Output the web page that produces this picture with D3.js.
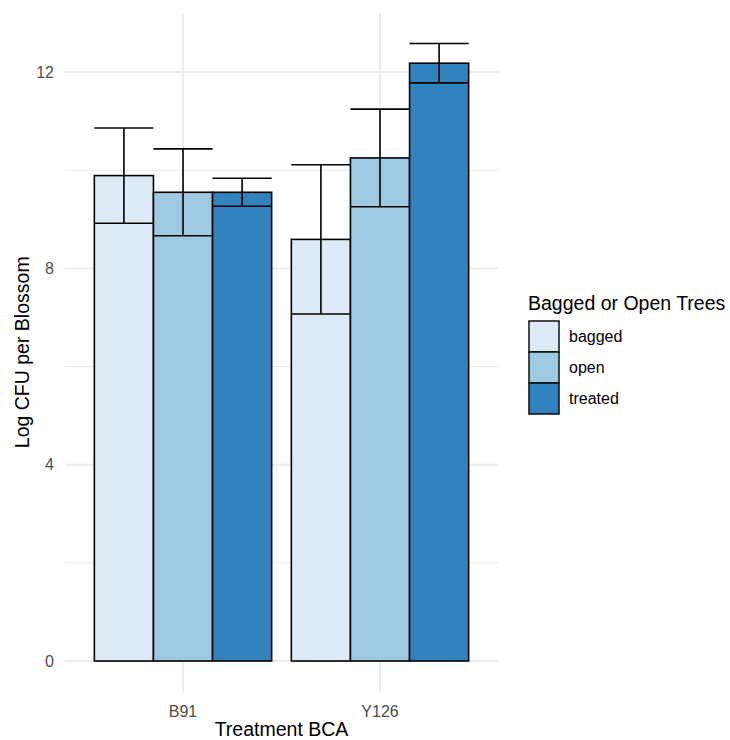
<!DOCTYPE html>
<html>
<head>
<meta charset="utf-8">
<script src="https://cdn.jsdelivr.net/npm/d3@7"></script>
<style>
  body { margin: 0; background: #fff; }
  svg { font-family: "Liberation Sans", Arial, sans-serif; }
</style>
</head>
<body>
<div id="graf"></div>
<script>
// Datos
const tratamientos = ["B91", "Y126"]
const grupos = ["bagged", "open", "treated"]
const mediaB91 = [9.89, 9.55, 9.55]
const seB91 = [0.97, 0.885, 0.285]
const mediaY126 = [8.59, 10.25, 12.18]
const seY126 = [1.52, 0.995, 0.40]
const yTicks = [0, 4, 8, 12]
const yMinor = [2, 6, 10]
const colores = ["#deebf7", "#9ecae1", "#3182bd"]

const series = { B91: [mediaB91, seB91], Y126: [mediaY126, seY126] }
const data = []
tratamientos.forEach((t) => {
  grupos.forEach((g, i) => {
    data.push({ trat: t, grupo: g, media: series[t][0][i], se: series[t][1][i] })
  })
})

const anchoTotal = 730
const altoTotal = 740
const panel = { left: 64.8, right: 498.2 }

const svg = d3.select("#graf")
  .append("svg")
  .attr("width", anchoTotal)
  .attr("height", altoTotal)

// Escaladores (expansion estilo ggplot)
const maxVal = d3.max(data, (d) => d.media + d.se)
const exp = maxVal * 0.05
const y = d3.scaleLinear()
  .domain([-exp, maxVal + exp])
  .range([661 + exp * 49.08, 661 - (maxVal + exp) * 49.08])
const panelTop = y.range()[1]
const panelBottom = y.range()[0]

const x = d3.scaleBand()
  .domain(tratamientos)
  .range([panel.left, panel.right])
  .paddingInner(0.1)
  .paddingOuter(0.15)

const xSub = d3.scaleBand()
  .domain(grupos)
  .range([0, x.bandwidth()])

const color = d3.scaleOrdinal().domain(grupos).range(colores)

// Rejilla
const grid = svg.append("g")
grid.selectAll(".minor")
  .data(yMinor)
  .join("line")
  .attr("x1", panel.left).attr("x2", panel.right)
  .attr("y1", (d) => y(d)).attr("y2", (d) => y(d))
  .attr("stroke", "#ebebeb").attr("stroke-width", 1)
grid.selectAll(".major")
  .data(yTicks)
  .join("line")
  .attr("x1", panel.left).attr("x2", panel.right)
  .attr("y1", (d) => y(d)).attr("y2", (d) => y(d))
  .attr("stroke", "#ebebeb").attr("stroke-width", 1.9)
grid.selectAll(".vert")
  .data(tratamientos)
  .join("line")
  .attr("x1", (d) => x(d) + x.bandwidth() / 2).attr("x2", (d) => x(d) + x.bandwidth() / 2)
  .attr("y1", panelTop).attr("y2", panelBottom)
  .attr("stroke", "#ebebeb").attr("stroke-width", 1.9)

// Barras
const g = svg.append("g")
g.selectAll("rect")
  .data(data)
  .join("rect")
  .attr("x", (d) => x(d.trat) + xSub(d.grupo))
  .attr("y", (d) => y(d.media))
  .attr("width", xSub.bandwidth())
  .attr("height", (d) => y(0) - y(d.media))
  .attr("fill", (d) => color(d.grupo))
  .attr("stroke", "#000")
  .attr("stroke-width", 1.6)

// Barras de error
const err = svg.append("g").attr("stroke", "#000").attr("stroke-width", 1.6)
data.forEach((d) => {
  const x0 = x(d.trat) + xSub(d.grupo)
  const x1 = x0 + xSub.bandwidth()
  const xc = (x0 + x1) / 2
  err.append("line").attr("x1", xc).attr("x2", xc)
    .attr("y1", y(d.media - d.se)).attr("y2", y(d.media + d.se))
  err.append("line").attr("x1", x0).attr("x2", x1)
    .attr("y1", y(d.media - d.se)).attr("y2", y(d.media - d.se))
  err.append("line").attr("x1", x0).attr("x2", x1)
    .attr("y1", y(d.media + d.se)).attr("y2", y(d.media + d.se))
})

// Ejes
svg.append("g")
  .selectAll("text")
  .data(yTicks)
  .join("text")
  .attr("x", 54)
  .attr("y", (d) => y(d))
  .attr("dy", "0.36em")
  .attr("text-anchor", "end")
  .attr("fill", "#4d4d4d")
  .attr("font-size", 16)
  .text((d) => d)

svg.append("g")
  .selectAll("text")
  .data(tratamientos)
  .join("text")
  .attr("x", (d) => x(d) + x.bandwidth() / 2)
  .attr("y", 717)
  .attr("text-anchor", "middle")
  .attr("fill", "#4d4d4d")
  .attr("font-size", 16)
  .text((d) => d)

svg.append("text")
  .attr("x", (panel.left + panel.right) / 2)
  .attr("y", 736)
  .attr("text-anchor", "middle")
  .attr("font-size", 19.5)
  .attr("fill", "#000")
  .text("Treatment BCA")

svg.append("text")
  .attr("transform", `translate(29, ${(panelTop + panelBottom) / 2}) rotate(-90)`)
  .attr("text-anchor", "middle")
  .attr("font-size", 19.5)
  .attr("fill", "#000")
  .text("Log CFU per Blossom")

// Leyenda
const leg = svg.append("g").attr("transform", "translate(528, 0)")
leg.append("text")
  .attr("x", 0)
  .attr("y", 310)
  .attr("font-size", 19.5)
  .attr("fill", "#000")
  .text("Bagged or Open Trees")

const item = leg.selectAll(".item")
  .data(grupos)
  .join("g")
  .attr("transform", (d, i) => `translate(1, ${321 + i * 31})`)
item.append("rect")
  .attr("width", 30)
  .attr("height", 31)
  .attr("fill", (d) => color(d))
  .attr("stroke", "#000")
  .attr("stroke-width", 1.4)
item.append("text")
  .attr("x", 40)
  .attr("y", 15.5)
  .attr("dy", "0.36em")
  .attr("font-size", 16)
  .attr("fill", "#000")
  .text((d) => d)
</script>
</body>
</html>
